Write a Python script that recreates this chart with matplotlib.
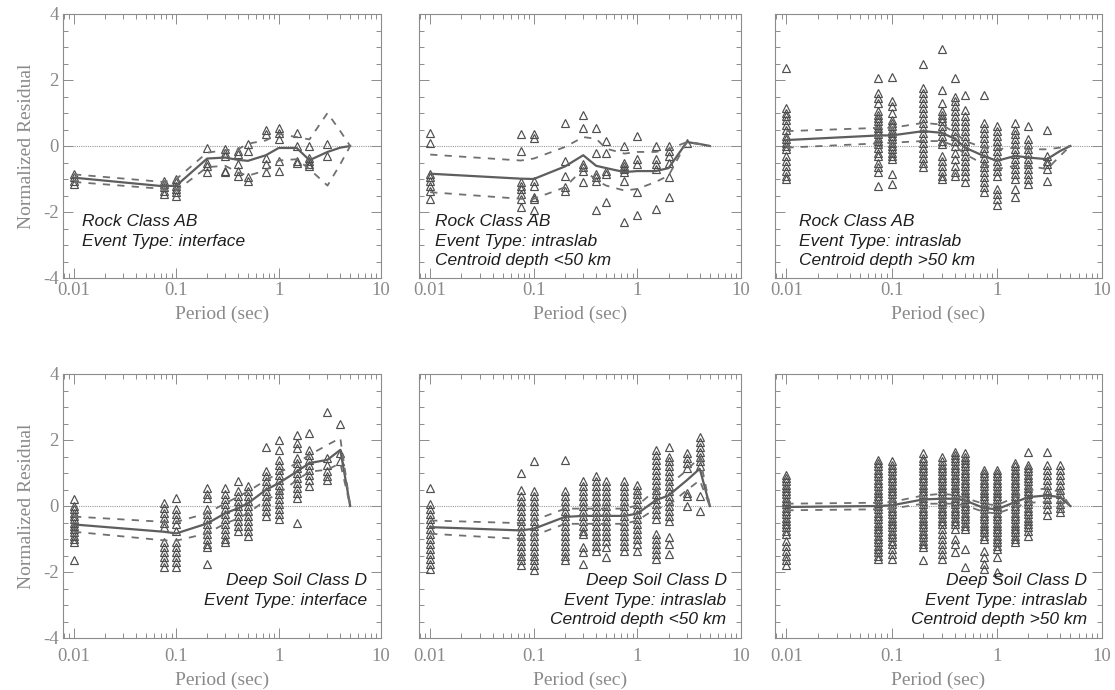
import matplotlib
matplotlib.use("Agg")
import matplotlib.pyplot as plt
from matplotlib.ticker import MultipleLocator, FixedLocator, NullFormatter

# periods (sec) where residuals were computed
periods_pts = [0.01, 0.075, 0.1, 0.2, 0.3, 0.4, 0.5, 0.75, 1.0, 1.5, 2.0, 3.0, 4.0]
periods_line = [0.01, 0.075, 0.1, 0.2, 0.3, 0.4, 0.5, 0.75, 1.0, 1.5, 2.0, 3.0, 4.0, 5.0]

# ---- panel 1: Rock AB, interface
p1_pts = [
    [-0.85, -0.95, -1.05, -1.15],
    [-1.05, -1.15, -1.25, -1.35, -1.45],
    [-1.0, -1.1, -1.2, -1.3, -1.4, -1.5],
    [-0.05, -0.5, -0.6, -0.8],
    [-0.1, -0.2, -0.3, -0.75, -0.8],
    [-0.15, -0.25, -0.55, -0.75, -0.9],
    [0.05, -0.15, -0.95, -1.05],
    [0.5, 0.35, -0.35, -0.55, -0.8],
    [0.55, 0.4, 0.2, -0.45, -0.75],
    [0.4, 0.0, -0.45, -0.5],
    [0.0, -0.35, -0.45, -0.55, -0.6],
    [0.05, -0.3],
    [],
]
p1_mean = [-0.96, -1.22, -1.2, -0.38, -0.35, -0.42, -0.45, -0.28, -0.06, -0.06, -0.43, -0.18, -0.05, 0.0]
p1_up = [-0.86, -1.09, -1.0, -0.2, -0.13, -0.1, 0.07, 0.17, 0.37, 0.27, 0.2, 1.0, 0.45, 0.0]
p1_lo = [-1.09, -1.3, -1.35, -0.64, -0.6, -0.8, -0.9, -0.74, -0.44, -0.4, -0.7, -1.2, -0.55, 0.0]

# ---- panel 2: Rock AB, intraslab < 50 km
p2_pts = [
    [0.4, 0.1, -0.85, -0.95, -1.05, -1.2, -1.35, -1.6],
    [0.35, -0.15, -1.1, -1.2, -1.3, -1.45, -1.6, -1.85],
    [0.35, 0.25, -1.05, -1.2, -1.55, -1.6, -1.95],
    [0.7, -0.45, -0.9, -1.25, -1.35],
    [0.95, 0.55, -0.55, -0.65, -0.75, -1.1],
    [0.55, -0.2, -0.85, -0.95, -1.05, -1.95],
    [0.15, -0.2, -0.75, -0.85, -1.7],
    [0.0, -0.5, -0.6, -0.7, -0.8, -1.05, -2.3],
    [0.3, -0.4, -0.55, -1.4, -2.1],
    [0.0, -0.4, -0.55, -0.7, -1.9],
    [0.0, -0.15, -0.3, -0.5, -0.95, -1.55],
    [0.1],
    [],
]
p2_mean = [-0.84, -0.99, -1.0, -0.62, -0.28, -0.6, -0.67, -0.79, -0.76, -0.76, -0.67, 0.12, 0.06, 0.0]
p2_up = [-0.26, -0.44, -0.38, -0.03, 0.27, 0.22, -0.08, -0.23, -0.18, -0.18, -0.1, 0.12, 0.06, 0.0]
p2_lo = [-1.4, -1.6, -1.6, -1.25, -0.69, -1.04, -1.2, -1.35, -1.3, -1.09, -0.9, 0.12, 0.06, 0.0]

# ---- panel 3: Rock AB, intraslab > 50 km
p3_pts = [
    [2.35, 1.15, 1.0, 0.9, 0.8, 0.65, 0.5, 0.3, 0.2, 0.1, 0.0, -0.1, -0.3, -0.45, -0.6, -0.75, -0.9, -1.0],
    [2.05, 1.6, 1.45, 1.3, 1.05, 0.95, 0.85, 0.75, 0.65, 0.55, 0.45, 0.35, 0.25, 0.15, 0.05, -0.05,
     -0.2, -0.3, -0.5, -0.65, -0.8, -1.2],
    [2.1, 1.35, 1.2, 1.0, 0.8, 0.7, 0.6, 0.5, 0.4, 0.3, 0.2, 0.1, 0.0, -0.1, -0.2, -0.3, -0.4, -0.85, -1.15],
    [2.5, 1.75, 1.6, 1.45, 1.3, 1.15, 1.0, 0.85, 0.7, 0.55, 0.4, 0.25, 0.1, -0.05, -0.2, -0.35, -0.5, -0.65],
    [2.95, 1.7, 1.3, 1.05, 0.95, 0.85, 0.75, 0.6, 0.45, 0.3, 0.15, 0.05, -0.3, -0.45, -0.6, -0.75, -0.9, -1.0],
    [2.05, 1.5, 1.35, 1.2, 1.05, 0.9, 0.75, 0.6, 0.45, 0.3, 0.15, 0.0, -0.2, -0.4, -0.6, -0.8, -0.9],
    [1.55, 1.1, 0.9, 0.75, 0.6, 0.45, 0.3, 0.15, 0.0, -0.15, -0.3, -0.45, -0.6, -0.75, -0.9, -1.1],
    [1.55, 0.7, 0.55, 0.4, 0.25, 0.1, -0.05, -0.2, -0.35, -0.5, -0.65, -0.8, -0.95, -1.1, -1.25, -1.4],
    [0.6, 0.45, 0.3, 0.15, 0.0, -0.15, -0.3, -0.45, -0.6, -0.75, -0.9, -1.3, -1.45, -1.6, -1.8],
    [0.7, 0.5, 0.35, 0.2, 0.05, -0.1, -0.25, -0.4, -0.55, -0.7, -0.85, -1.0, -1.3, -1.55],
    [0.6, 0.2, 0.05, -0.1, -0.25, -0.4, -0.55, -0.7, -0.85, -1.0, -1.15],
    [0.5, -0.3, -0.45, -0.55, -0.7, -1.05],
    [],
]
p3_mean = [0.18, 0.32, 0.32, 0.45, 0.4, 0.22, -0.05, -0.3, -0.45, -0.3, -0.35, -0.4, -0.15, 0.0]
p3_up = [0.45, 0.55, 0.55, 0.7, 0.65, 0.4, 0.15, -0.05, -0.1, -0.05, -0.1, -0.1, -0.05, 0.0]
p3_lo = [-0.05, 0.08, 0.1, 0.15, 0.15, 0.0, -0.25, -0.55, -0.7, -0.6, -0.6, -0.7, -0.3, 0.0]

# ---- panel 4: Deep soil D, interface
p4_pts = [
    [0.2, 0.0, -0.1, -0.2, -0.3, -0.4, -0.5, -0.6, -0.7, -0.8, -0.9, -1.0, -1.1, -1.65],
    [0.1, -0.05, -0.2, -0.35, -0.5, -0.65, -1.1, -1.25, -1.4, -1.55, -1.7, -1.85],
    [0.25, -0.1, -0.25, -0.4, -0.55, -0.75, -1.1, -1.25, -1.4, -1.55, -1.7, -1.85],
    [0.55, 0.35, 0.25, -0.1, -0.25, -0.4, -0.55, -0.7, -0.85, -1.0, -1.15, -1.25, -1.75],
    [0.55, 0.35, 0.2, 0.05, -0.1, -0.25, -0.4, -0.55, -0.7, -0.85, -1.0, -1.1],
    [0.75, 0.45, 0.3, 0.15, 0.0, -0.15, -0.3, -0.45, -0.6, -0.75],
    [0.6, 0.45, 0.3, 0.15, 0.0, -0.15, -0.3, -0.45, -0.6, -0.75, -0.9],
    [1.8, 1.05, 0.9, 0.75, 0.6, 0.45, 0.3, 0.15, 0.0, -0.15, -0.3],
    [2.0, 1.7, 1.4, 1.25, 1.1, 0.95, 0.8, 0.65, 0.5, 0.35, 0.2, 0.05, -0.1, -0.25, -0.4],
    [2.15, 1.9, 1.75, 1.45, 1.3, 1.15, 1.0, 0.85, 0.7, 0.55, 0.4, 0.25, -0.5],
    [2.2, 1.7, 1.55, 1.4, 1.25, 1.1, 0.95, 0.8, 0.6],
    [2.85, 1.45, 1.25, 1.05, 0.9, 0.8],
    [2.5, 1.6, 1.35],
]
p4_mean = [-0.56, -0.78, -0.83, -0.53, -0.22, -0.07, 0.08, 0.49, 0.69, 1.04, 1.3, 1.4, 1.7, 0.0]
p4_up = [-0.32, -0.48, -0.48, -0.22, 0.08, 0.28, 0.44, 0.78, 1.0, 1.3, 1.55, 1.85, 2.06, 0.0]
p4_lo = [-0.78, -1.04, -1.05, -0.83, -0.53, -0.38, -0.22, 0.18, 0.38, 0.78, 1.04, 1.1, 1.3, 0.0]

# ---- panel 5: Deep soil D, intraslab < 50 km
p5_pts = [
    [0.55, 0.05, -0.1, -0.25, -0.4, -0.55, -0.7, -0.85, -1.0, -1.15, -1.3, -1.45, -1.6, -1.75, -1.9],
    [1.0, 0.5, 0.3, 0.15, 0.0, -0.15, -0.3, -0.45, -0.6, -0.75, -0.9, -1.05, -1.2, -1.35, -1.5, -1.65, -1.8],
    [1.35, 0.45, 0.3, 0.15, 0.0, -0.15, -0.3, -0.45, -0.6, -0.75, -0.9, -1.05, -1.2, -1.35, -1.5, -1.65,
     -1.8, -1.95],
    [1.4, 0.45, 0.3, 0.15, 0.0, -0.15, -0.3, -0.45, -0.6, -0.75, -0.9, -1.05, -1.2, -1.35, -1.5, -1.65],
    [0.75, 0.6, 0.45, 0.3, 0.15, 0.0, -0.15, -0.3, -0.45, -0.6, -0.75, -0.85, -1.25, -1.4, -1.75],
    [0.9, 0.75, 0.6, 0.45, 0.3, 0.15, 0.0, -0.15, -0.3, -0.45, -0.6, -0.75, -0.9, -1.05, -1.2, -1.35],
    [0.75, 0.6, 0.45, 0.3, 0.15, 0.0, -0.15, -0.3, -0.45, -0.6, -0.75, -0.9, -1.05, -1.25, -1.55],
    [0.75, 0.6, 0.45, 0.3, 0.15, 0.0, -0.15, -0.3, -0.45, -0.6, -0.75, -0.9, -1.05, -1.2, -1.35],
    [0.65, 0.5, 0.35, 0.2, 0.05, -0.1, -0.25, -0.4, -0.55, -0.7, -0.85, -1.0, -1.15, -1.35],
    [1.7, 1.55, 1.4, 1.25, 1.1, 0.95, 0.8, 0.65, 0.5, 0.35, 0.2, 0.05, -0.1, -0.25, -0.4, -0.85, -1.0,
     -1.15, -1.3, -1.45, -1.6],
    [1.8, 1.5, 1.35, 1.2, 1.05, 0.9, 0.75, 0.6, 0.45, 0.3, 0.15, 0.0, -0.15, -0.3, -0.45, -0.95, -1.15, -1.45],
    [1.6, 1.45, 1.3, 1.15, 0.4, 0.3, 0.0],
    [2.1, 1.95, 1.8, 1.65, 1.5, 1.35, 1.2, 0.3, -0.15],
]
p5_mean = [-0.64, -0.74, -0.69, -0.33, -0.3, -0.3, -0.3, -0.3, -0.23, 0.17, 0.32, 0.78, 1.13, 0.0]
p5_up = [-0.44, -0.52, -0.44, -0.08, -0.08, -0.08, -0.08, -0.08, 0.02, 0.48, 0.63, 1.08, 1.49, 0.0]
p5_lo = [-0.84, -1.0, -0.9, -0.54, -0.54, -0.54, -0.54, -0.54, -0.44, -0.08, 0.02, 0.48, 0.78, 0.0]

# ---- panel 6: Deep soil D, intraslab > 50 km
p6_pts = [
    [0.95, 0.85, 0.75, 0.65, 0.55, 0.45, 0.35, 0.25, 0.15, 0.05, -0.05, -0.15, -0.25, -0.35, -0.45,
     -0.55, -0.65, -0.75, -0.85, -1.05, -1.2, -1.35, -1.5, -1.65, -1.8],
    [1.4, 1.3, 1.2, 1.1, 1.0, 0.9, 0.8, 0.7, 0.6, 0.5, 0.4, 0.3, 0.2, 0.1, 0.0, -0.1, -0.2, -0.3, -0.4,
     -0.5, -0.6, -0.7, -0.8, -0.9, -1.0, -1.1, -1.2, -1.3, -1.4, -1.5, -1.6],
    [1.35, 1.25, 1.15, 1.05, 0.95, 0.85, 0.75, 0.65, 0.55, 0.45, 0.35, 0.25, 0.15, 0.05, -0.05, -0.15,
     -0.25, -0.35, -0.45, -0.55, -0.65, -0.75, -0.85, -0.95, -1.05, -1.15, -1.3, -1.45, -1.6],
    [1.6, 1.45, 1.35, 1.25, 1.15, 1.05, 0.95, 0.85, 0.75, 0.65, 0.55, 0.45, 0.35, 0.25, 0.15, 0.05,
     -0.05, -0.15, -0.25, -0.35, -0.45, -0.55, -0.65, -0.75, -0.85, -0.95, -1.05, -1.15, -1.25, -1.65],
    [1.5, 1.35, 1.25, 1.15, 1.05, 0.95, 0.85, 0.75, 0.65, 0.55, 0.45, 0.35, 0.25, 0.15, 0.05, -0.05,
     -0.15, -0.25, -0.35, -0.45, -0.55, -0.7, -0.85, -1.0, -1.15, -1.3, -1.45, -1.6],
    [1.65, 1.55, 1.45, 1.35, 1.25, 1.15, 1.05, 0.95, 0.85, 0.75, 0.65, 0.55, 0.45, 0.35, 0.25, 0.15,
     0.05, -0.05, -0.15, -0.25, -0.35, -0.45, -0.55, -0.7, -1.0, -1.15, -1.4],
    [1.6, 1.5, 1.4, 1.3, 1.2, 1.1, 1.0, 0.9, 0.8, 0.7, 0.6, 0.5, 0.4, 0.3, 0.2, 0.1, 0.0, -0.1, -0.2,
     -0.3, -0.4, -0.5, -0.6, -0.7, -1.3, -1.85],
    [1.1, 1.0, 0.9, 0.8, 0.7, 0.6, 0.5, 0.4, 0.3, 0.2, 0.1, 0.0, -0.1, -0.2, -0.3, -0.4, -0.5, -0.6,
     -0.7, -0.8, -0.9, -1.0, -1.35, -1.55, -1.75, -1.9],
    [1.1, 1.0, 0.9, 0.8, 0.7, 0.6, 0.5, 0.4, 0.3, 0.2, 0.1, 0.0, -0.1, -0.2, -0.3, -0.4, -0.5, -0.6,
     -0.7, -0.8, -0.9, -1.0, -1.1, -1.2, -1.3, -1.55, -2.0],
    [1.3, 1.2, 1.1, 1.0, 0.9, 0.8, 0.7, 0.6, 0.5, 0.4, 0.3, 0.2, 0.1, 0.0, -0.1, -0.2, -0.3, -0.4,
     -0.5, -0.6, -0.7, -0.8, -0.9, -1.0, -1.1],
    [1.65, 1.25, 1.15, 1.05, 0.95, 0.85, 0.75, 0.65, 0.55, 0.45, 0.35, 0.25, 0.15, 0.05, -0.05,
     -0.15, -0.25, -0.35, -0.45, -0.55, -0.65, -0.75, -0.9],
    [1.65, 1.25, 1.1, 0.95, 0.8, 0.65, 0.5, 0.35, 0.2, 0.05, -0.1, -0.28],
    [1.25, 1.1, 0.95, 0.8, 0.65, 0.5, 0.35, 0.2, 0.05, -0.05, -0.18],
]
p6_mean = [-0.03, 0.0, 0.02, 0.2, 0.22, 0.22, 0.17, -0.06, -0.1, 0.12, 0.27, 0.32, 0.27, 0.0]
p6_up = [0.07, 0.1, 0.12, 0.32, 0.37, 0.33, 0.24, 0.07, 0.02, 0.27, 0.48, 0.53, 0.43, 0.0]
p6_lo = [-0.13, -0.1, -0.08, 0.07, 0.07, 0.07, 0.02, -0.18, -0.23, -0.03, 0.1, 0.12, 0.12, 0.0]

labels = [
    ["Rock Class AB", "Event Type: interface"],
    ["Rock Class AB", "Event Type: intraslab", "Centroid depth <50 km"],
    ["Rock Class AB", "Event Type: intraslab", "Centroid depth >50 km"],
    ["Deep Soil Class D", "Event Type: interface"],
    ["Deep Soil Class D", "Event Type: intraslab", "Centroid depth <50 km"],
    ["Deep Soil Class D", "Event Type: intraslab", "Centroid depth >50 km"],
]

panels = [
    (p1_pts, p1_mean, p1_up, p1_lo),
    (p2_pts, p2_mean, p2_up, p2_lo),
    (p3_pts, p3_mean, p3_up, p3_lo),
    (p4_pts, p4_mean, p4_up, p4_lo),
    (p5_pts, p5_mean, p5_up, p5_lo),
    (p6_pts, p6_mean, p6_up, p6_lo),
]

W, H = 1115, 690
col_left = [63, 419, 775]
col_width = [318, 322, 327]
row_top = [14, 374]
ax_h = 264
GREY = "#8c8c8c"
SERIF = ["Liberation Serif", "DejaVu Serif"]

fig = plt.figure(figsize=(W / 100, H / 100), dpi=100)

for i, (pts, mean, up, lo) in enumerate(panels):
    r, c = divmod(i, 3)
    ax = fig.add_axes([col_left[c] / W, 1 - (row_top[r] + ax_h) / H, col_width[c] / W, ax_h / H])
    ax.set_xscale("log")
    ax.set_xlim(0.0078, 10)
    ax.set_ylim(-4, 4)

    ax.axhline(0, color="#9a9a9a", lw=0.8, ls=(0, (1, 1)), zorder=1)

    for per, vals in zip(periods_pts, pts):
        if vals:
            ax.plot([per] * len(vals), vals, ls="none", marker="^", ms=6,
                    mfc="none", mec="#4e4e4e", mew=0.85, zorder=2)

    ax.plot(periods_line, mean, color="#5e5e5e", lw=1.6, zorder=3)
    ax.plot(periods_line, up, color="#707070", lw=1.3, ls=(0, (4, 4)), zorder=3)
    ax.plot(periods_line, lo, color="#707070", lw=1.3, ls=(0, (4, 4)), zorder=3)

    for s in ax.spines.values():
        s.set_color(GREY)
        s.set_linewidth(0.8)

    ax.xaxis.set_major_locator(FixedLocator([0.01, 0.1, 1, 10]))
    ax.set_xticklabels(["0.01", "0.1", "1", "10"])
    ax.yaxis.set_major_locator(MultipleLocator(2))
    ax.yaxis.set_minor_locator(MultipleLocator(0.5))
    ax.tick_params(which="both", direction="in", top=True, right=True, color=GREY, width=0.7)
    ax.tick_params(which="major", length=7, labelsize=13.5, labelcolor="#8a8a8a", pad=3)
    ax.tick_params(which="minor", length=3.5)
    if r == 1:
        ax.tick_params(axis="x", which="major", pad=7)
    ax.xaxis.set_minor_formatter(NullFormatter())
    for t in ax.get_xticklabels() + ax.get_yticklabels():
        t.set_family(SERIF)
    if c == 0:
        ax.set_yticks([-4, -2, 0, 2, 4])
        ax.set_yticklabels(["-4", "-2", "0", "2", "4"])
        for t in ax.get_yticklabels():
            t.set_family(SERIF)
        ax.set_ylabel("Normalized Residual", family=SERIF, fontsize=14, color="#8a8a8a", labelpad=6)
    else:
        ax.set_yticklabels([])
    ax.set_xlabel("Period (sec)", family=SERIF, fontsize=14, color="#8a8a8a", labelpad=5)

    lines = labels[i]
    if r == 0:
        ys = [0.214, 0.138, 0.066]
        x0, ha = (19 / col_width[c]), "left"
        if c == 1:
            x0 = 16 / col_width[c]
        elif c == 2:
            x0 = 24 / col_width[c]
    else:
        ys = [0.218, 0.142, 0.07]
        x0, ha = 0.955, "right"
    for ln, yy in zip(lines, ys):
        ax.text(x0, yy, ln, transform=ax.transAxes, ha=ha, va="center",
                fontsize=12.5, style="italic", family=["Liberation Sans", "DejaVu Sans"],
                color="#1e1e1e", zorder=5)

fig.savefig("out.png", dpi=100)
